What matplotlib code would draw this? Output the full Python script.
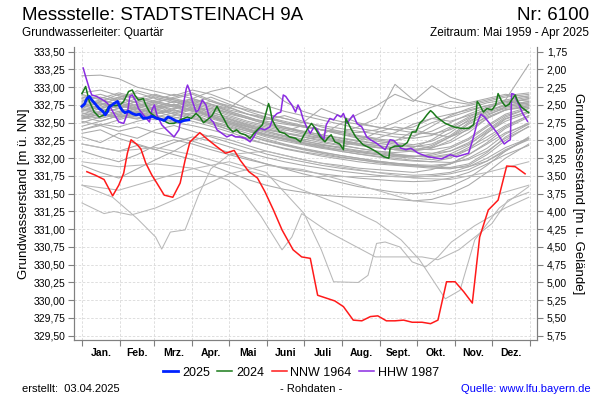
import matplotlib
matplotlib.use("Agg")
import matplotlib.pyplot as plt
from matplotlib.ticker import FixedLocator, FuncFormatter, NullFormatter
from matplotlib.lines import Line2D

plt.rcParams['font.family'] = ['Liberation Sans', 'DejaVu Sans']

# ---- data (day of year, 0 = 1. Jan) ----
GELAENDE = 335.25   # Geländehöhe: m ü. NN = GELAENDE - m u. Gelände

months = ['Jan.', 'Feb.', 'Mrz.', 'Apr.', 'Mai', 'Juni', 'Juli', 'Aug.', 'Sept.', 'Okt.', 'Nov.', 'Dez.']
month_starts = [0, 31, 59, 90, 120, 151, 181, 212, 243, 273, 304, 334, 365]

days_2025 = [0, 2, 4, 6, 8, 10, 12, 14, 17, 19, 21, 22, 24, 26, 29, 31, 33, 35, 38, 41,
             44, 47, 50, 54, 57, 61, 64, 67, 70, 73, 76, 80, 83, 87]
gw_2025 = [332.73, 332.76, 332.84, 332.87, 332.82, 332.78, 332.74, 332.70, 332.66, 332.61,
           332.66, 332.72, 332.74, 332.77, 332.80, 332.72, 332.67, 332.64, 332.66, 332.63,
           332.61, 332.62, 332.56, 332.57, 332.59, 332.56, 332.55, 332.53, 332.58, 332.56,
           332.53, 332.51, 332.53, 332.54]

days_2024 = [0, 3, 6, 10, 14, 18, 20, 23, 27, 31, 34, 38, 41, 43, 46, 50, 52, 55, 60, 65,
             71, 75, 80, 86, 89, 93, 96, 99, 102, 106, 110, 113, 116, 119, 123, 126, 129, 133,
             137, 140, 144, 147, 149, 152, 153, 155, 158, 161, 165, 169, 174, 178, 181, 184,
             187, 190, 194, 198, 200, 203, 206, 210, 213, 215, 219, 223, 229, 235, 240, 246,
             250, 251, 255, 261, 265, 269, 272, 275, 278, 281, 284, 286, 289, 296, 303, 309,
             315, 319, 321, 322, 324, 327, 330, 334, 337, 339, 342, 345, 348, 350, 353, 355,
             358, 361, 364]
gw_2024 = [332.91, 333.01, 332.80, 332.65, 332.58, 332.61, 332.68, 332.75, 332.74, 332.75,
           332.80, 332.94, 332.96, 332.89, 332.82, 332.84, 332.75, 332.65, 332.58, 332.54,
           332.49, 332.49, 332.54, 332.58, 332.56, 332.63, 332.58, 332.50, 332.54, 332.60,
           332.73, 332.63, 332.54, 332.44, 332.37, 332.40, 332.35, 332.33, 332.28, 332.35,
           332.42, 332.47, 332.58, 332.77, 332.72, 332.54, 332.44, 332.37, 332.35, 332.30,
           332.28, 332.23, 332.33, 332.42, 332.49, 332.42, 332.30, 332.23, 332.28, 332.33,
           332.23, 332.20, 332.12, 332.56, 332.42, 332.30, 332.19, 332.14, 332.09, 332.02,
           332.00, 332.14, 332.17, 332.17, 332.22, 332.37, 332.37, 332.49, 332.54, 332.61,
           332.67, 332.64, 332.58, 332.49, 332.44, 332.42, 332.42, 332.47, 332.63, 332.80,
           332.75, 332.65, 332.70, 332.68, 332.75, 332.91, 332.80, 332.73, 332.76, 332.82,
           332.89, 332.80, 332.72, 332.68, 332.64]

days_1964 = [4, 11, 18, 25, 30, 34, 37, 40, 45, 48, 52, 57, 61, 67, 74, 80, 84, 88, 96, 102,
             110, 117, 124, 129, 136, 143, 149, 156, 163, 172, 179, 186, 192, 199, 206, 213,
             221, 228, 235, 241, 248, 255, 262, 269, 277, 284, 290, 297, 304, 311, 318, 324,
             331, 339, 346, 353, 361]
gw_1964 = [331.81, 331.76, 331.70, 331.47, 331.62, 331.79, 332.07, 332.26, 332.19, 332.13,
           331.93, 331.76, 331.65, 331.48, 331.45, 331.65, 331.97, 332.23, 332.36, 332.27,
           332.16, 332.07, 332.11, 331.97, 331.81, 331.72, 331.53, 331.27, 330.99, 330.71,
           330.61, 330.59, 330.07, 330.03, 329.99, 329.91, 329.72, 329.71, 329.77, 329.78,
           329.71, 329.71, 329.72, 329.69, 329.69, 329.67, 329.72, 330.26, 330.26, 330.12,
           329.96, 330.89, 331.27, 331.41, 331.89, 331.88, 331.78]

days_1987 = [1, 3, 6, 8, 12, 15, 19, 22, 26, 30, 34, 37, 39, 41, 44, 46, 50, 55, 57, 59, 61,
             65, 69, 75, 79, 82, 85, 86, 88, 90, 93, 95, 98, 101, 104, 107, 110, 114, 118, 122,
             125, 129, 133, 137, 140, 142, 145, 149, 153, 156, 159, 162, 164, 166, 168, 171,
             174, 176, 178, 180, 183, 186, 189, 191, 194, 197, 199, 202, 205, 208, 211, 213,
             216, 218, 221, 224, 228, 232, 235, 240, 247, 251, 254, 260, 264, 268, 274, 282,
             293, 300, 305, 311, 315, 319, 322, 325, 328, 333, 338, 344, 347, 349, 350, 352,
             356, 359, 363]
gw_1987 = [333.27, 333.15, 332.98, 332.89, 332.87, 332.84, 332.80, 332.75, 332.63, 332.51,
           332.49, 332.63, 332.87, 332.89, 332.80, 332.70, 332.61, 332.51, 332.68, 332.75,
           332.61, 332.47, 332.40, 332.30, 332.40, 332.70, 332.98, 333.03, 332.94, 332.80,
           332.65, 332.68, 332.82, 332.75, 332.56, 332.51, 332.40, 332.35, 332.30, 332.33,
           332.30, 332.30, 332.28, 332.23, 332.30, 332.37, 332.42, 332.40, 332.44, 332.58,
           332.63, 332.65, 332.89, 332.87, 332.82, 332.75, 332.65, 332.75, 332.68, 332.56,
           332.44, 332.35, 332.44, 332.42, 332.33, 332.26, 332.47, 332.56, 332.54, 332.61,
           332.58, 332.63, 332.49, 332.54, 332.61, 332.49, 332.44, 332.30, 332.26, 332.21,
           332.12, 332.26, 332.25, 332.14, 332.12, 332.14, 332.07, 332.02, 331.99, 332.05,
           332.02, 332.05, 332.07, 332.30, 332.50, 332.62, 332.58, 332.47, 332.36, 332.20,
           332.24, 332.26, 332.91, 332.90, 332.75, 332.63, 332.52]

# other years (grey), half-monthly readings
grey_days = [0, 15, 30, 45, 60, 75, 90, 105, 120, 135, 150, 165, 180, 195, 210, 225, 240,
             255, 270, 285, 300, 315, 330, 345, 364]
grey_main = [
    [332.72, 332.78, 332.70, 332.81, 332.74, 332.69, 332.76, 332.62, 332.55, 332.47, 332.40, 332.36, 332.30, 332.26, 332.22, 332.18, 332.15, 332.12, 332.10, 332.14, 332.25, 332.42, 332.60, 332.72, 332.78],
    [332.60, 332.66, 332.74, 332.68, 332.72, 332.80, 332.70, 332.58, 332.50, 332.41, 332.33, 332.27, 332.21, 332.16, 332.10, 332.06, 332.02, 331.98, 331.96, 331.95, 332.00, 332.12, 332.35, 332.55, 332.66],
    [332.85, 332.90, 332.82, 332.95, 332.88, 332.84, 332.90, 332.80, 332.71, 332.62, 332.58, 332.50, 332.44, 332.40, 332.34, 332.30, 332.27, 332.25, 332.30, 332.45, 332.60, 332.70, 332.78, 332.82, 332.88],
    [332.55, 332.62, 332.58, 332.66, 332.60, 332.56, 332.63, 332.52, 332.43, 332.35, 332.27, 332.20, 332.14, 332.09, 332.04, 332.00, 331.96, 331.93, 331.90, 331.88, 331.87, 331.92, 332.08, 332.30, 332.48],
    [332.68, 332.74, 332.86, 332.78, 332.70, 332.76, 332.66, 332.70, 332.64, 332.56, 332.48, 332.42, 332.38, 332.33, 332.28, 332.24, 332.20, 332.24, 332.38, 332.50, 332.58, 332.66, 332.74, 332.80, 332.76],
    [332.78, 332.70, 332.76, 332.66, 332.73, 332.64, 332.70, 332.60, 332.50, 332.42, 332.34, 332.28, 332.22, 332.17, 332.12, 332.08, 332.05, 332.03, 332.02, 332.04, 332.10, 332.22, 332.40, 332.58, 332.70],
    [332.50, 332.58, 332.66, 332.72, 332.80, 332.74, 332.68, 332.60, 332.52, 332.45, 332.38, 332.31, 332.25, 332.19, 332.14, 332.10, 332.06, 332.02, 332.00, 331.98, 332.02, 332.15, 332.30, 332.46, 332.60],
    [332.92, 332.96, 332.88, 332.84, 332.90, 332.82, 332.78, 332.86, 332.76, 332.66, 332.58, 332.52, 332.46, 332.40, 332.36, 332.31, 332.26, 332.22, 332.19, 332.24, 332.36, 332.54, 332.70, 332.80, 332.86],
    [332.64, 332.58, 332.64, 332.70, 332.62, 332.68, 332.58, 332.50, 332.40, 332.32, 332.24, 332.18, 332.12, 332.07, 332.02, 331.98, 331.94, 331.91, 331.89, 331.88, 331.92, 332.05, 332.22, 332.42, 332.58],
    [332.70, 332.80, 332.90, 332.84, 332.78, 332.86, 332.92, 332.82, 332.72, 332.62, 332.54, 332.60, 332.52, 332.44, 332.38, 332.32, 332.28, 332.36, 332.48, 332.56, 332.52, 332.60, 332.68, 332.74, 332.80],
    [332.58, 332.52, 332.60, 332.56, 332.66, 332.58, 332.52, 332.45, 332.37, 332.28, 332.20, 332.13, 332.08, 332.03, 331.99, 331.95, 331.92, 331.90, 331.88, 331.86, 331.85, 331.90, 332.05, 332.25, 332.45],
    [332.76, 332.82, 332.74, 332.70, 332.78, 332.72, 332.80, 332.74, 332.66, 332.58, 332.50, 332.44, 332.36, 332.30, 332.25, 332.21, 332.18, 332.14, 332.12, 332.16, 332.30, 332.48, 332.62, 332.70, 332.76],
    [332.66, 332.72, 332.78, 332.70, 332.64, 332.70, 332.76, 332.66, 332.56, 332.48, 332.42, 332.36, 332.32, 332.28, 332.24, 332.20, 332.16, 332.12, 332.09, 332.07, 332.10, 332.20, 332.36, 332.52, 332.64],
    [332.82, 332.76, 332.84, 332.78, 332.86, 332.80, 332.72, 332.64, 332.58, 332.50, 332.44, 332.38, 332.46, 332.40, 332.34, 332.28, 332.24, 332.20, 332.17, 332.15, 332.22, 332.36, 332.56, 332.68, 332.74],
    [332.45, 332.52, 332.60, 332.55, 332.62, 332.68, 332.60, 332.52, 332.46, 332.38, 332.30, 332.24, 332.19, 332.14, 332.10, 332.06, 332.03, 332.00, 331.97, 331.95, 331.94, 331.98, 332.10, 332.28, 332.44],
    [332.74, 332.68, 332.62, 332.70, 332.76, 332.66, 332.72, 332.68, 332.60, 332.52, 332.46, 332.40, 332.34, 332.28, 332.23, 332.19, 332.15, 332.12, 332.15, 332.26, 332.42, 332.56, 332.66, 332.74, 332.80],
    [332.88, 332.84, 332.92, 332.86, 332.80, 332.84, 332.78, 332.72, 332.64, 332.56, 332.48, 332.42, 332.36, 332.31, 332.26, 332.21, 332.18, 332.15, 332.13, 332.12, 332.16, 332.28, 332.46, 332.62, 332.72],
    [332.62, 332.70, 332.66, 332.60, 332.68, 332.74, 332.84, 332.76, 332.66, 332.58, 332.50, 332.44, 332.38, 332.33, 332.29, 332.25, 332.21, 332.18, 332.16, 332.20, 332.32, 332.50, 332.66, 332.76, 332.84],
    [332.52, 332.46, 332.54, 332.62, 332.58, 332.52, 332.56, 332.48, 332.40, 332.32, 332.25, 332.19, 332.13, 332.08, 332.04, 332.00, 331.96, 331.93, 331.91, 331.90, 331.92, 332.00, 332.14, 332.34, 332.50],
    [332.80, 332.86, 332.80, 332.74, 332.82, 332.90, 332.84, 332.94, 333.00, 332.86, 332.74, 332.66, 332.60, 332.54, 332.48, 332.42, 332.38, 332.34, 332.32, 332.38, 332.50, 332.62, 332.72, 332.78, 332.84],
    [332.70, 332.64, 332.70, 332.76, 332.68, 332.62, 332.68, 332.58, 332.48, 332.40, 332.33, 332.27, 332.22, 332.18, 332.16, 332.24, 332.36, 332.44, 332.40, 332.34, 332.30, 332.40, 332.56, 332.68, 332.74],
    [332.58, 332.64, 332.70, 332.64, 332.58, 332.64, 332.70, 332.62, 332.54, 332.46, 332.40, 332.35, 332.30, 332.24, 332.19, 332.14, 332.10, 332.08, 332.10, 332.18, 332.30, 332.44, 332.58, 332.68, 332.72],
    [332.90, 332.82, 332.76, 332.84, 332.78, 332.72, 332.66, 332.58, 332.50, 332.44, 332.38, 332.32, 332.27, 332.22, 332.18, 332.14, 332.10, 332.06, 332.03, 332.01, 332.04, 332.12, 332.26, 332.44, 332.60],
    [332.66, 332.76, 332.70, 332.64, 332.72, 332.80, 332.74, 332.80, 332.74, 332.68, 332.62, 332.56, 332.50, 332.70, 332.60, 332.50, 332.44, 332.40, 332.36, 332.34, 332.40, 332.52, 332.64, 332.72, 332.78],
    [332.60, 332.56, 332.62, 332.58, 332.54, 332.60, 332.64, 332.56, 332.48, 332.40, 332.32, 332.26, 332.20, 332.15, 332.12, 332.09, 332.06, 332.04, 332.02, 332.06, 332.14, 332.26, 332.44, 332.60, 332.70],
    [332.74, 332.80, 332.86, 332.92, 332.84, 332.78, 332.84, 332.76, 332.68, 332.62, 332.56, 332.50, 332.45, 332.40, 332.36, 332.44, 332.56, 333.04, 332.82, 332.76, 332.70, 332.74, 332.80, 332.86, 332.90],
    [332.40, 332.48, 332.44, 332.52, 332.58, 332.50, 332.46, 332.40, 332.33, 332.26, 332.20, 332.14, 332.09, 332.05, 332.01, 331.98, 331.95, 331.92, 331.90, 331.88, 331.86, 331.88, 331.96, 332.10, 332.28],
    [332.84, 332.78, 332.72, 332.80, 332.88, 332.82, 332.76, 332.70, 332.62, 332.56, 332.52, 332.48, 332.44, 332.40, 332.38, 332.36, 332.40, 332.50, 332.62, 332.72, 332.80, 332.76, 332.82, 332.88, 332.92],
    [332.68, 332.62, 332.56, 332.64, 332.70, 332.76, 332.68, 332.60, 332.52, 332.44, 332.36, 332.30, 332.24, 332.20, 332.15, 332.11, 332.08, 332.05, 332.03, 332.02, 332.06, 332.18, 332.38, 332.56, 332.66],
    [333.16, 333.17, 333.12, 333.00, 332.94, 332.88, 332.96, 332.90, 332.80, 332.70, 332.62, 332.56, 332.50, 332.46, 332.42, 332.38, 332.34, 332.30, 332.28, 332.32, 332.44, 332.58, 332.70, 332.82, 333.32],
    [332.76, 332.70, 332.78, 332.72, 332.80, 332.74, 332.82, 332.76, 332.70, 332.90, 333.01, 332.80, 332.66, 332.58, 332.52, 332.48, 332.44, 332.40, 332.44, 332.56, 332.62, 332.68, 332.74, 332.80, 332.82],
    [332.56, 332.62, 332.58, 332.64, 332.70, 332.62, 332.56, 332.50, 332.44, 332.38, 332.32, 332.28, 332.25, 332.32, 332.48, 332.62, 332.74, 332.90, 332.80, 333.02, 332.86, 332.78, 332.84, 332.90, 332.86],
]
grey_mid = [
    [332.30, 332.22, 332.35, 332.28, 332.40, 332.46, 332.38, 332.30, 332.22, 332.14, 332.06, 332.00, 331.95, 331.90, 331.86, 331.83, 331.80, 331.78, 331.76, 331.77, 331.80, 331.88, 332.00, 332.15, 332.28],
    [332.10, 332.02, 331.95, 332.05, 332.18, 332.26, 332.20, 332.12, 332.05, 331.98, 331.92, 331.86, 331.82, 331.78, 331.75, 331.72, 331.70, 331.68, 331.67, 331.68, 331.72, 331.80, 331.92, 332.05, 332.18],
    [331.90, 331.80, 331.72, 331.85, 331.98, 332.10, 332.25, 332.32, 332.26, 332.18, 332.10, 332.04, 331.98, 331.93, 331.90, 331.86, 331.84, 331.82, 331.80, 331.84, 331.92, 332.05, 332.20, 332.36, 332.48],
    [332.35, 332.40, 332.28, 332.20, 332.12, 332.22, 332.30, 332.24, 332.16, 332.08, 332.01, 331.95, 331.90, 331.86, 331.82, 331.79, 331.76, 331.74, 331.73, 331.75, 331.78, 331.84, 331.96, 332.12, 332.26],
    [332.20, 332.15, 332.10, 332.18, 332.12, 332.05, 331.98, 331.90, 331.80, 331.70, 331.62, 331.56, 331.52, 331.48, 331.46, 331.45, 331.44, 331.42, 331.40, 331.42, 331.50, 331.62, 331.80, 332.00, 332.20],
    [332.40, 332.46, 332.38, 332.44, 332.36, 332.30, 332.24, 332.16, 332.08, 332.00, 331.92, 331.85, 331.78, 331.72, 331.66, 331.60, 331.56, 331.52, 331.50, 331.52, 331.60, 331.72, 331.90, 332.10, 332.30],
]

flat_days = [0, 364]
flat_gw = [331.75, 331.75]

low1_days = [0, 18, 26, 40, 60, 80, 100, 120, 150, 180, 210, 240, 270, 300, 330, 364]
low1_gw = [331.37, 331.22, 331.25, 331.20, 331.30, 331.45, 331.62, 331.78, 331.90, 331.84,
           331.70, 331.55, 331.40, 331.35, 331.45, 331.62]
low2_days = [0, 30, 60, 90, 120, 150, 181, 195, 205, 225, 233, 240, 247, 259, 269, 280, 290,
             301, 320, 345, 364]
low2_gw = [331.62, 331.55, 331.70, 331.85, 331.95, 331.80, 331.22, 330.71, 330.26, 330.25,
           330.35, 330.80, 330.82, 330.75, 330.54, 330.47, 330.61, 330.82, 331.05, 331.30, 331.45]
low3_days = [0, 30, 60, 90, 119, 130, 146, 163, 171, 179, 201, 239, 277, 290, 307, 334, 347, 364]
low3_gw = [331.95, 331.88, 331.92, 331.86, 331.69, 331.55, 331.18, 330.71, 330.89, 331.22,
           330.96, 330.61, 330.61, 330.57, 330.71, 331.08, 331.41, 331.52]
low4_days = [0, 30, 60, 90, 120, 150, 180, 210, 240, 260, 275, 296, 308, 320, 340, 364]
low4_gw = [332.20, 332.10, 332.15, 332.05, 331.90, 331.75, 331.55, 331.35, 331.10, 330.85,
           330.57, 330.02, 330.14, 330.85, 331.30, 331.60]
low5_days = [0, 25, 45, 60, 65, 72, 84, 95, 105, 120, 150, 180, 210, 240, 270, 300, 330, 364]
low5_gw = [331.62, 331.45, 331.15, 330.89, 330.72, 330.96, 330.99, 331.48, 331.85, 332.05,
           332.10, 331.98, 331.88, 331.80, 331.72, 331.70, 331.80, 331.95]

# ---- figure ----
fig = plt.figure(figsize=(6, 4), dpi=100)
ax = fig.add_axes([0.1233, 0.15, 0.7717, 0.7325])

grey = '#a9a9a9'
for vals in grey_main + grey_mid:
    ax.plot(grey_days, vals, color=grey, lw=0.75, zorder=2)
for d, v in [(flat_days, flat_gw), (low1_days, low1_gw), (low2_days, low2_gw),
             (low3_days, low3_gw), (low4_days, low4_gw), (low5_days, low5_gw)]:
    ax.plot(d, v, color='#b8b8b8', lw=0.75, zorder=2)

ax.plot(days_1964, gw_1964, color='#ff1a1a', lw=1.1, zorder=3)
ax.plot(days_1987, gw_1987, color='#8a2be2', lw=1.1, zorder=4)
ax.plot(days_2024, gw_2024, color='#1a7a1a', lw=1.1, zorder=5)
ax.plot(days_2025, gw_2025, color='#0022ff', lw=2.0, zorder=6)

ylo, yhi = 329.44, 333.566
ax.set_xlim(-6.5, 370.7)
ax.set_ylim(ylo, yhi)

yt = [329.50 + 0.25 * i for i in range(17)]
ax.yaxis.set_major_locator(FixedLocator(yt))
ax.yaxis.set_major_formatter(FuncFormatter(lambda v, p: f"{v:.2f}".replace('.', ',')))
ax.xaxis.set_major_locator(FixedLocator(month_starts))
ax.xaxis.set_major_formatter(NullFormatter())
mid = [(month_starts[i] + month_starts[i + 1]) / 2 for i in range(12)]
ax.xaxis.set_minor_locator(FixedLocator(mid))
ax.set_xticklabels(months, minor=True)
ax.tick_params(axis='x', which='minor', length=0, pad=6, labelsize=7.5)
for t in ax.get_xticklabels(minor=True):
    t.set_fontweight('bold')
ax.tick_params(axis='x', which='major', length=4, color='#808080')
ax.tick_params(axis='y', length=4, color='#808080', labelsize=7.5, pad=2)

ax.grid(True, which='major', color='#d9d9d9', lw=0.6, ls=(0, (3, 2)))
ax.spines['top'].set_visible(False)
for s in ['left', 'right', 'bottom']:
    ax.spines[s].set_color('#808080')

ax.set_ylabel('Grundwasserstand [m ü. NN]', fontsize=9.5, labelpad=3)

ax2 = ax.twinx()
ax2.set_ylim(GELAENDE - ylo, GELAENDE - yhi)
ax2.yaxis.set_major_locator(FixedLocator([1.75 + 0.25 * i for i in range(17)]))
ax2.yaxis.set_major_formatter(FuncFormatter(lambda v, p: f"{v:.2f}".replace('.', ',')))
ax2.tick_params(axis='y', length=4, color='#808080', labelsize=7.5, pad=3)
ax2.spines['top'].set_visible(False)
for s in ['left', 'right', 'bottom']:
    ax2.spines[s].set_color('#808080')
ax2.set_ylabel('Grundwasserstand [m u. Gelände]', fontsize=9.5, rotation=270, labelpad=12)

# titles
fig.text(0.036, 0.962, 'Messstelle: STADTSTEINACH 9A', fontsize=13.5, va='center', ha='left')
fig.text(0.982, 0.962, 'Nr: 6100', fontsize=13.5, va='center', ha='right')
fig.text(0.036, 0.918, 'Grundwasserleiter: Quartär', fontsize=8.5, va='center', ha='left')
fig.text(0.982, 0.918, 'Zeitraum: Mai 1959 - Apr 2025', fontsize=8.5, va='center', ha='right')

# legend
handles = [Line2D([], [], color='#0022ff', lw=2.0), Line2D([], [], color='#1a7a1a', lw=1.1),
           Line2D([], [], color='#ff1a1a', lw=1.1), Line2D([], [], color='#8a2be2', lw=1.1)]
fig.legend(handles, ['2025', '2024', 'NNW 1964', 'HHW 1987'], loc='center',
           bbox_to_anchor=(0.502, 0.068), ncol=4, frameon=False, fontsize=9,
           handlelength=1.2, handletextpad=0.3, columnspacing=0.6)

# footer
fig.text(0.037, 0.027, 'erstellt:  03.04.2025', fontsize=8, va='center', ha='left')
fig.text(0.518, 0.027, '- Rohdaten -', fontsize=8, va='center', ha='center')
fig.text(0.985, 0.027, 'Quelle: www.lfu.bayern.de', fontsize=8, va='center', ha='right', color='#0000ff')

fig.savefig('out.png', dpi=100)
